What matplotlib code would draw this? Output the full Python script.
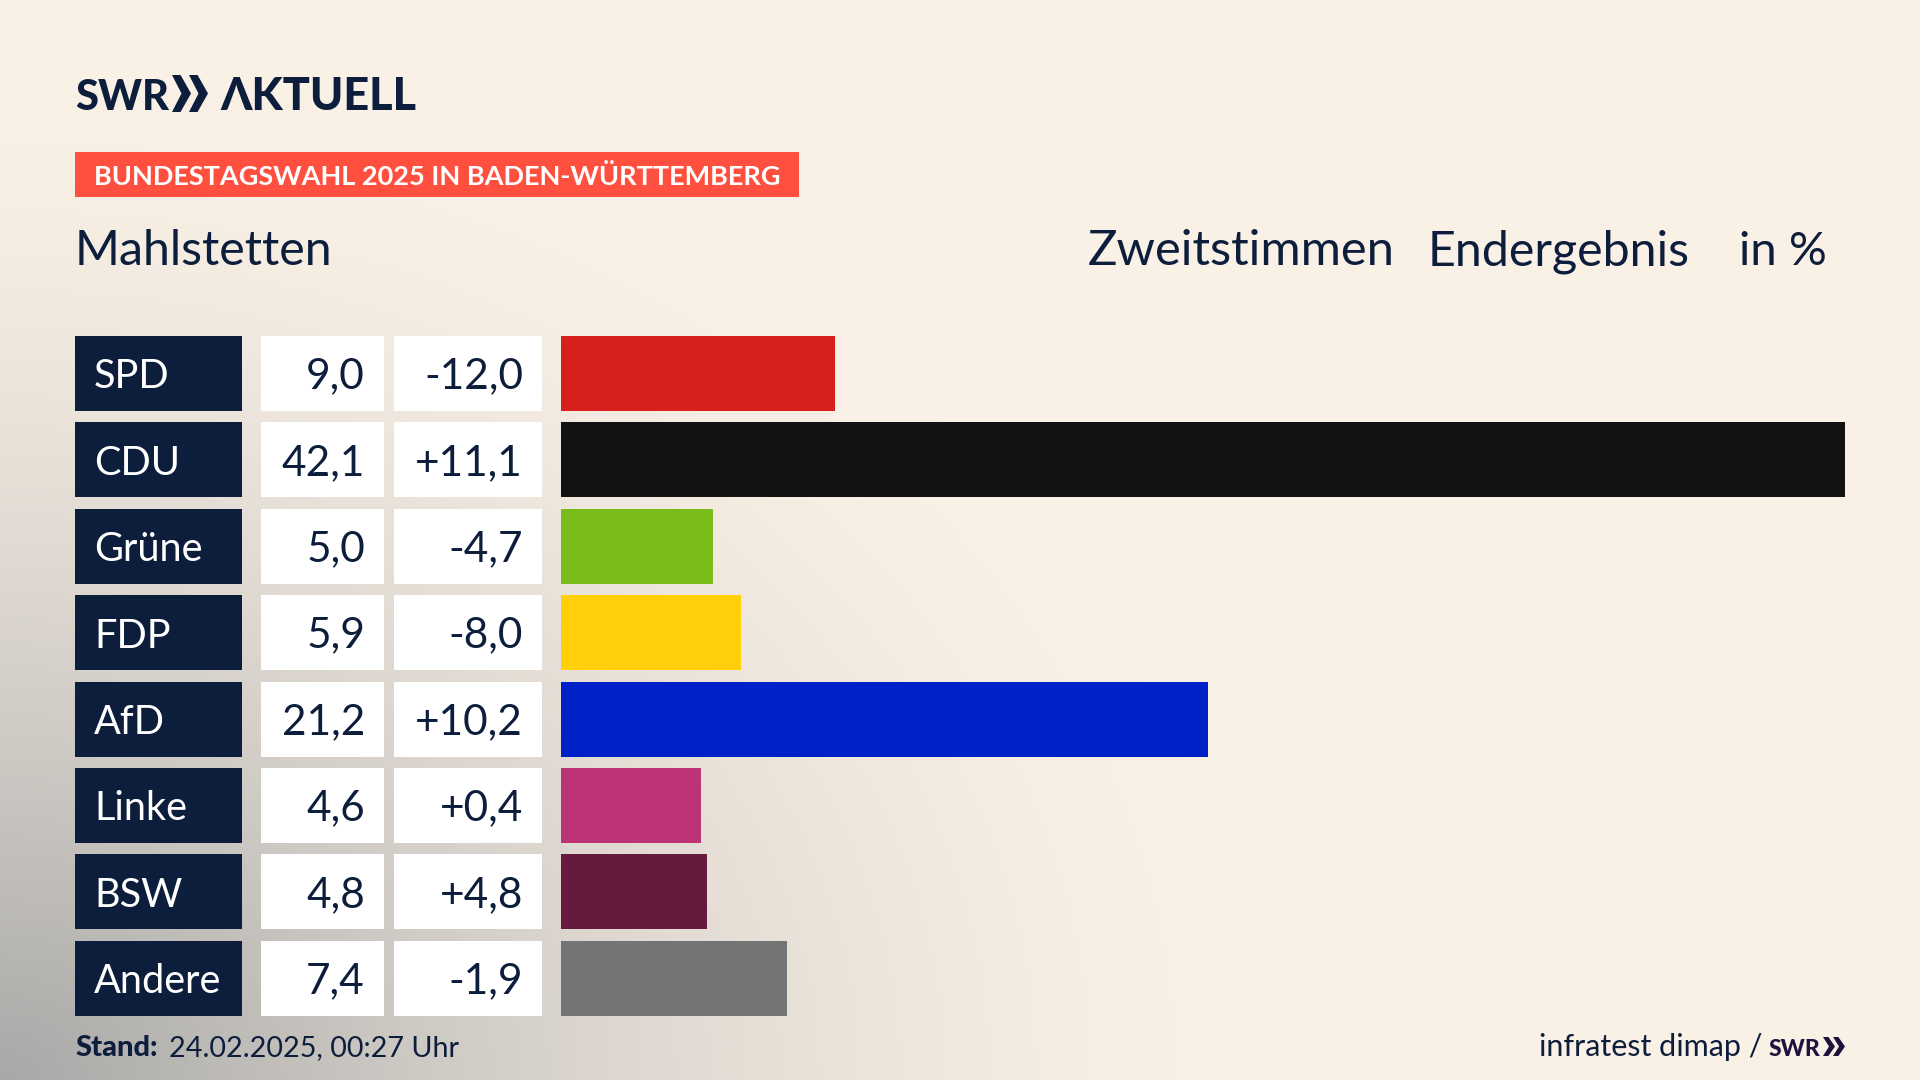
import numpy as np
import matplotlib
matplotlib.use("Agg")
import matplotlib.pyplot as plt
from matplotlib.patches import Rectangle, Polygon

parties = ["SPD", "CDU", "Grüne", "FDP", "AfD", "Linke", "BSW", "Andere"]
shares = [9.0, 42.1, 5.0, 5.9, 21.2, 4.6, 4.8, 7.4]
share_labels = ["9,0", "42,1", "5,0", "5,9", "21,2", "4,6", "4,8", "7,4"]
diff_labels = ["-12,0", "+11,1", "-4,7", "-8,0", "+10,2", "+0,4", "+4,8", "-1,9"]
colors = ["#D71F1D", "#121212", "#7ABC1A", "#FFCF09", "#0020C8", "#BC3475", "#661A3E", "#737475"]

NAVY = "#0C1E3C"
CREAM = np.array([250, 241, 230]) / 255
GREY = np.array([168, 168, 167]) / 255
W, H = 1920, 1080
FONT = ["Lato", "DejaVu Sans"]

fig = plt.figure(figsize=(19.2, 10.8), dpi=100)

# page axes in pixels, y pointing down
page = fig.add_axes([0, 0, 1, 1])
page.set_xlim(0, W)
page.set_ylim(H, 0)
page.axis("off")

# grey glow from the bottom left corner
xx, yy = np.meshgrid(np.arange(0, W, 4), np.arange(0, H, 4))
d = np.sqrt((xx / 1250) ** 2 + ((H - yy) / 1000) ** 2)
t = np.clip(1 - d, 0, 1) ** 1.5
bg = CREAM + (GREY - CREAM) * t[..., None]
page.imshow(bg, extent=(0, W, H, 0), aspect="auto", interpolation="bilinear", zorder=0)
page.set_xlim(0, W)
page.set_ylim(H, 0)


def chevrons(x, top, bottom, width, gap, color):
    mid = (top + bottom) / 2
    for i in range(2):
        x0 = x + i * gap
        page.add_patch(Polygon([(x0, top), (x0 + width * 0.45, top), (x0 + width, mid),
                                (x0 + width * 0.45, bottom), (x0, bottom), (x0 + width * 0.5, mid)],
                               closed=True, fc=color, ec="none", zorder=3))


# logo
page.text(75, 110, "SWR", fontsize=30, fontweight="black", family=FONT, color=NAVY, va="baseline", zorder=3)
chevrons(172, 75, 112, 19, 17, NAVY)
page.text(220, 110, "ΛKTUELL", fontsize=32.4, fontweight="black", family=FONT, color=NAVY, va="baseline", zorder=3)

# red banner
page.add_patch(Rectangle((75, 152), 724, 45, fc="#FF4F3F", ec="none", zorder=2))
page.text(94, 185, "BUNDESTAGSWAHL 2025 IN BADEN-WÜRTTEMBERG", fontsize=19.55, fontweight="bold",
          family=FONT, color="white", va="baseline", zorder=3)

# header line
page.text(75, 265, "Mahlstetten", fontsize=34.8, family=FONT, color=NAVY, va="baseline", zorder=3)
page.text(1088, 265, "Zweitstimmen", fontsize=35.3, family=FONT, color=NAVY, va="baseline", zorder=3)
page.text(1428, 265, "Endergebnis", fontsize=34.8, family=FONT, color=NAVY, va="baseline", zorder=3)
page.text(1739, 265, "in %", fontsize=34, family=FONT, color=NAVY, va="baseline", zorder=3)

# table cells and bars
row_top, row_h, pitch = 336, 75, 86.4
for i, party in enumerate(parties):
    y = row_top + i * pitch
    page.add_patch(Rectangle((75, y), 167, row_h, fc=NAVY, ec="none", zorder=2))
    page.add_patch(Rectangle((261, y), 123, row_h, fc="white", ec="none", zorder=2))
    page.add_patch(Rectangle((394, y), 148, row_h, fc="white", ec="none", zorder=2))
    base = y + 52.5
    page.text(94, base, party, fontsize=28.6, family=FONT, color="white", va="baseline", zorder=3)
    page.text(365, base, share_labels[i], fontsize=30.5, family=FONT, color=NAVY, va="baseline", ha="right", zorder=3)
    page.text(523, base, diff_labels[i], fontsize=30.5, family=FONT, color=NAVY, va="baseline", ha="right", zorder=3)

ax = fig.add_axes([561 / W, 1 - (row_top + 7 * pitch + row_h) / H, 1284 / W, (7 * pitch + row_h) / H])
ax.patch.set_alpha(0)
frac = row_h / pitch
ax.barh(range(len(parties)), shares, height=frac, color=colors)
ax.set_xlim(0, max(shares))
ax.set_ylim(len(parties) - 1 + frac / 2, -frac / 2)
ax.axis("off")

# footer
page.text(75, 1056, "Stand:", fontsize=21, fontweight="black", family=FONT, color=NAVY, va="baseline", zorder=3)
page.text(169, 1056, "24.02.2025, 00:27 Uhr", fontsize=20.7, family=FONT, color=NAVY, va="baseline", zorder=3)
page.text(1539, 1056, "infratest dimap /", fontsize=22, family=FONT, color=NAVY, va="baseline", zorder=3)
page.text(1769, 1056, "SWR", fontsize=16.5, fontweight="black", family=FONT, color="#22103F", va="baseline", zorder=3)
chevrons(1823, 1037, 1056, 12, 10, "#22103F")

fig.savefig("out.png", dpi=100)
plt.close(fig)
